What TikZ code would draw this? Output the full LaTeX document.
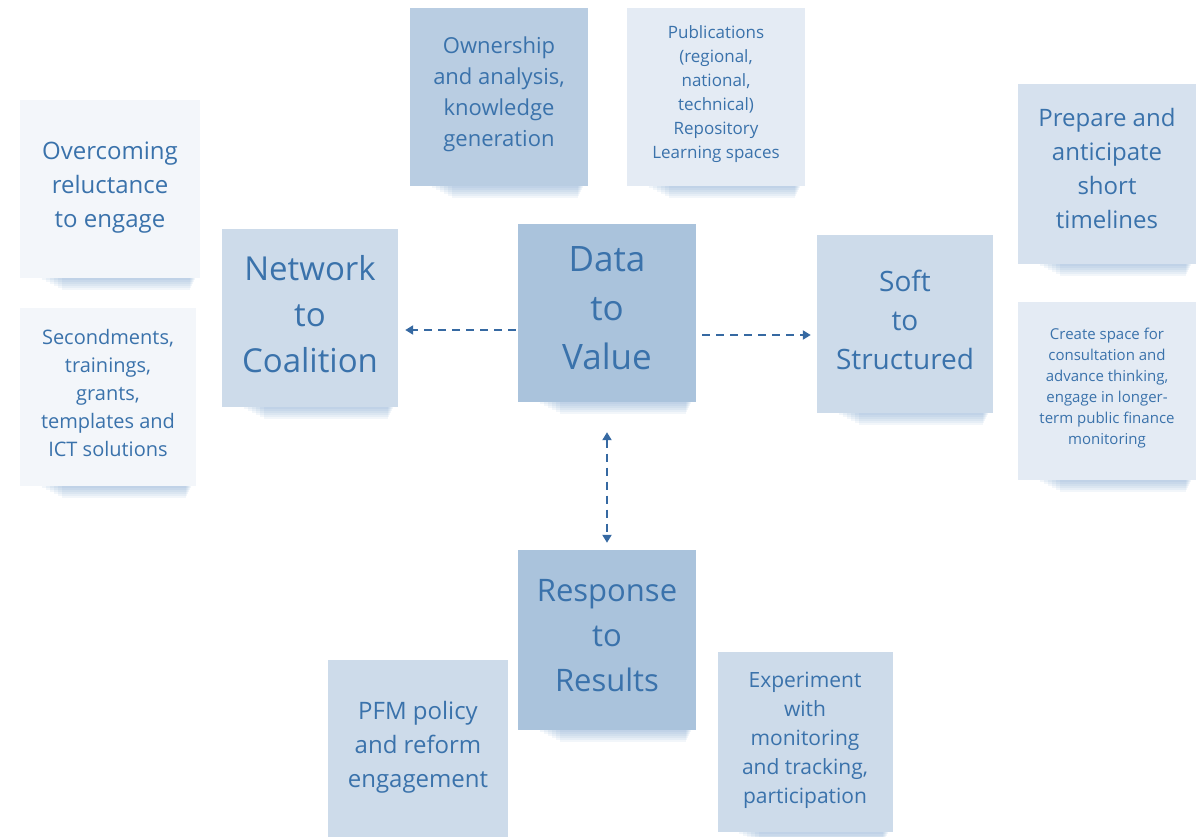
\documentclass[tikz,border=0pt]{standalone}
\usepackage{fontspec}
\setmainfont{Open Sans}
\usetikzlibrary{arrows.meta,backgrounds}
\definecolor{inkblue}{HTML}{3A72AB}
\definecolor{linkblue}{HTML}{3669A2}
\definecolor{shadeblue}{HTML}{5A8BC0}
\definecolor{hubfill}{HTML}{AAC3DC}
\definecolor{midfill}{HTML}{B9CDE2}
\definecolor{softfill}{HTML}{CDDBEA}
\definecolor{palefill}{HTML}{D6E1EE}
\definecolor{lightfill}{HTML}{E4EBF4}
\definecolor{paperfill}{HTML}{F3F6FA}

\begin{document}
\begin{tikzpicture}[
  x=1pt, y=-1pt,
  every node/.style={align=center, text=inkblue},
  note/.style={rectangle, inner sep=0pt, minimum width=178pt, minimum height=178pt, text depth=9pt},
  fs/.style 2 args={font=\fontsize{#1}{#2}\selectfont},
  link/.style={draw=linkblue, line width=2pt, dash pattern=on 8pt off 6pt,
               -{Triangle[length=8pt, width=9pt]}}
]
\useasboundingbox (0,0) rectangle (1196,837);

% Hub notes
\node[note, fill=hubfill, fs={35}{49}] (data) at (607,313) {Data\\to\\Value};
\node[note, fill=softfill, fs={33}{46}, minimum width=176pt] (net) at (310,318) {Network\\to\\Coalition};
\node[note, fill=softfill, fs={28}{39}, minimum width=176pt] (soft) at (905,324) {Soft\\to\\Structured};
\node[note, fill=hubfill, fs={31}{45}, minimum height=180pt] (resp) at (607,640) {Response\\to\\Results};

% Top notes
\node[note, fill=midfill, fs={22}{31}, text depth=11pt] (own) at (499,97)
  {Ownership\\and analysis,\\knowledge\\generation};
\node[note, fill=lightfill, fs={17}{24}] (pub) at (716,97)
  {Publications\\(regional,\\national,\\technical)\\Repository\\Learning spaces};

% Left notes
\node[note, fill=paperfill, fs={24}{34}, minimum width=180pt] (reluct) at (110,189)
  {Overcoming\\reluctance\\to engage};
\node[note, fill=paperfill, fs={20}{28}, minimum width=176pt] (second) at (108,397)
  {Secondments,\\trainings,\\grants,\\templates and\\ICT solutions};

% Right notes
\node[note, fill=palefill, fs={24}{34}, minimum height=180pt, text depth=12pt] (prep) at (1107,174)
  {Prepare and\\anticipate\\short\\timelines};
\node[note, fill=lightfill, fs={15}{21}] (space) at (1107,391)
  {Create space for\\consultation and\\advance thinking,\\engage in longer-\\term public finance\\monitoring};

% Bottom notes
\node[note, fill=softfill, fs={24}{34}, minimum width=180pt, minimum height=180pt, text depth=12pt] (pfm) at (418,750)
  {PFM policy\\and reform\\engagement};
\node[note, fill=softfill, fs={21}{29}, minimum width=175pt, minimum height=180pt] (exper) at (805,742)
  {Experiment\\with\\monitoring\\and tracking,\\participation};

% Soft shadows under the notes
\begin{scope}[on background layer]
  \foreach \n in {data,net,soft,resp,own,pub,reluct,second,prep,space,pfm,exper}
    \foreach \k in {1,...,6}
      \fill[shadeblue, opacity=0.08]
        ([xshift={18pt+4pt*\k}]\n.south west) rectangle ([xshift={-4pt-1pt*\k}, yshift={-2pt*\k}]\n.south east);
\end{scope}

% Connectors
\draw[link, shorten <=2pt, shorten >=7pt] ([yshift=-17pt]data.west) -- ([yshift=-12pt]net.east);
\draw[link, shorten <=6pt, shorten >=6pt] ([yshift=-22pt]data.east) -- ([yshift=-11pt]soft.west);
\draw[link, {Triangle[length=8pt, width=9pt]}-{Triangle[length=8pt, width=9pt]},
      shorten <=30pt, shorten >=7pt] (data.south) -- (resp.north);

\end{tikzpicture}
\end{document}
